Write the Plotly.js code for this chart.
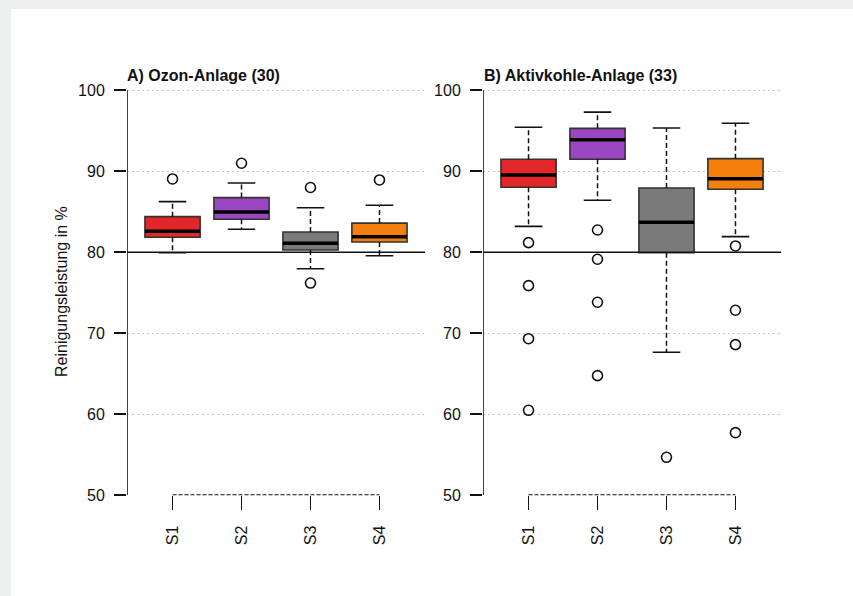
<!DOCTYPE html>
<html>
<head>
<meta charset="utf-8">
<script src="https://cdn.plot.ly/plotly-3.0.1.min.js"></script>
<style>html,body{margin:0;padding:0;background:#fff;}#chart{width:853px;height:596px;}</style>
</head>
<body>
<div id="chart"></div>
<script>
// ---- data ----
const groups = ['S1', 'S2', 'S3', 'S4'];
const colors = ['#e3262a', '#9b47c2', '#7a7a7a', '#f57f0b'];
const yTicks = [50, 60, 70, 80, 90, 100];

const titleA = 'A) Ozon-Anlage (30)';
const q1A  = [81.85, 84.07, 80.28, 81.27];
const medA = [82.6, 84.97, 81.1, 81.93];
const q3A  = [84.4, 86.75, 82.5, 83.6];
const loA  = [79.95, 82.84, 77.97, 79.58];
const hiA  = [86.25, 88.56, 85.5, 85.8];
const outA = [[89.05], [90.99], [88.0, 76.2], [88.93]];

const titleB = 'B) Aktivkohle-Anlage (33)';
const q1B  = [88.02, 91.48, 79.95, 87.78];
const medB = [89.54, 93.9, 83.7, 89.09];
const q3B  = [91.48, 95.3, 87.94, 91.56];
const loB  = [83.2, 86.42, 67.65, 81.93];
const hiB  = [95.43, 97.3, 95.35, 95.93];
const outB = [[81.19, 75.88, 69.33, 60.49], [82.75, 79.14, 73.83, 64.77], [54.69], [80.78, 72.84, 68.6, 57.73]];

const refLine = 80;
const yLabel = 'Reinigungsleistung in %';

// ---- build ----
const BOXW = 0.8, CAPW = 0.4;
const FONT = 'Liberation Sans, Arial, Helvetica, sans-serif';
const pos = groups.map((g, i) => i + 1);
const traces = [];

function panel(q1, med, q3, lo, hi, out, xa, ya) {
  // dashed whiskers
  const wx = [], wy = [];
  pos.forEach((p, i) => {
    wx.push(p, p, null, p, p, null);
    wy.push(q3[i], hi[i], null, q1[i], lo[i], null);
  });
  traces.push({type: 'scatter', mode: 'lines', x: wx, y: wy, xaxis: xa, yaxis: ya,
    line: {color: '#111', width: 1.5, dash: '5px,3px'}, hoverinfo: 'skip', showlegend: false});
  // dashed baseline from first to last group
  traces.push({type: 'scatter', mode: 'lines', x: [pos[0], pos[pos.length - 1]], y: [yTicks[0], yTicks[0]],
    xaxis: xa, yaxis: ya, line: {color: '#111', width: 1.8, dash: '4px,2px'}, hoverinfo: 'skip', showlegend: false, cliponaxis: false});
  // boxes
  pos.forEach((p, i) => {
    traces.push({type: 'box', x: [p], q1: [q1[i]], median: [med[i]], q3: [q3[i]],
      lowerfence: [q1[i]], upperfence: [q3[i]], width: BOXW, xaxis: xa, yaxis: ya,
      fillcolor: colors[i], line: {color: '#333', width: 1.6}, showlegend: false, hoverinfo: 'skip'});
  });
  // medians
  const mx = [], my = [];
  pos.forEach((p, i) => { mx.push(p - BOXW / 2, p + BOXW / 2, null); my.push(med[i], med[i], null); });
  traces.push({type: 'scatter', mode: 'lines', x: mx, y: my, xaxis: xa, yaxis: ya,
    line: {color: '#000', width: 3.5}, hoverinfo: 'skip', showlegend: false});
  // caps
  const cx = [], cy = [];
  pos.forEach((p, i) => {
    cx.push(p - CAPW / 2, p + CAPW / 2, null, p - CAPW / 2, p + CAPW / 2, null);
    cy.push(hi[i], hi[i], null, lo[i], lo[i], null);
  });
  traces.push({type: 'scatter', mode: 'lines', x: cx, y: cy, xaxis: xa, yaxis: ya,
    line: {color: '#111', width: 1.6}, hoverinfo: 'skip', showlegend: false});
  // outliers
  const ox = [], oy = [];
  out.forEach((arr, i) => arr.forEach(v => { ox.push(pos[i]); oy.push(v); }));
  traces.push({type: 'scatter', mode: 'markers', x: ox, y: oy, xaxis: xa, yaxis: ya,
    marker: {symbol: 'circle-open', size: 10, color: '#111', line: {width: 1.6, color: '#111'}},
    hoverinfo: 'skip', showlegend: false});
}
panel(q1A, medA, q3A, loA, hiA, outA, 'x', 'y');
panel(q1B, medB, q3B, loB, hiB, outB, 'x2', 'y2');

const xr = [0.34, groups.length + 0.66];
const yr = [50, 102];
const yDom = [0.169, 0.8757];

function xAxis(dom, anchor) {
  return {domain: dom, anchor: anchor, range: xr, tickvals: pos, ticktext: groups,
    showgrid: false, zeroline: false, showline: false, ticks: 'outside', ticklen: 14,
    tickwidth: 1.6, tickcolor: '#111', tickangle: -90, ticklabelstandoff: 9,
    tickfont: {family: FONT, size: 16, color: '#111'}};
}
function yAxis(anchor) {
  return {domain: yDom, anchor: anchor, range: yr, tickvals: yTicks, showgrid: true,
    gridcolor: '#c4c4c4', griddash: '2px,3px', gridwidth: 1.2, zeroline: false, showline: false,
    ticks: 'outside', ticklen: 12, tickwidth: 1.6, tickcolor: '#111', ticklabelstandoff: 6,
    tickfont: {family: FONT, size: 16, color: '#111'}};
}

const shapes = [
  {type: 'rect', xref: 'paper', yref: 'paper', x0: 0, x1: 11 / 853, y0: 0, y1: 1, fillcolor: '#eef0ef', line: {width: 0}, layer: 'below'},
  {type: 'rect', xref: 'paper', yref: 'paper', x0: 0, x1: 1, y0: (596 - 9) / 596, y1: 1, fillcolor: '#eef0ef', line: {width: 0}, layer: 'below'}
];
[['x', 'y'], ['x2', 'y2']].forEach(([xa, ya]) => {
  shapes.push({type: 'line', xref: xa, yref: ya, x0: xr[0], x1: xr[0], y0: yTicks[0], y1: yTicks[yTicks.length - 1], line: {color: '#111', width: 1.6}});
  shapes.push({type: 'line', xref: xa + ' domain', yref: ya, x0: 0, x1: 1, y0: refLine, y1: refLine, line: {color: '#111', width: 1.6}});
});

const layout = {
  width: 853, height: 596, margin: {l: 0, r: 0, t: 0, b: 0},
  paper_bgcolor: '#ffffff', plot_bgcolor: 'rgba(0,0,0,0)', showlegend: false, boxmode: 'overlay',
  xaxis: xAxis([127 / 853, 425 / 853], 'y'),
  yaxis: yAxis('x'),
  xaxis2: xAxis([483 / 853, 781 / 853], 'y2'),
  yaxis2: yAxis('x2'),
  shapes: shapes,
  annotations: [
    {text: '<b>' + titleA + '</b>', xref: 'paper', yref: 'paper', x: 125 / 853, y: (596 - 75) / 596,
      xanchor: 'left', yanchor: 'middle', showarrow: false, font: {family: FONT, size: 16, color: '#111'}},
    {text: '<b>' + titleB + '</b>', xref: 'paper', yref: 'paper', x: 482 / 853, y: (596 - 75) / 596,
      xanchor: 'left', yanchor: 'middle', showarrow: false, font: {family: FONT, size: 16, color: '#111'}},
    {text: yLabel, xref: 'paper', yref: 'paper', x: 61 / 853, y: (596 - 292) / 596, textangle: -90,
      xanchor: 'center', yanchor: 'middle', showarrow: false, font: {family: FONT, size: 16, color: '#111'}}
  ]
};

Plotly.newPlot('chart', traces, layout, {staticPlot: true, displayModeBar: false});
</script>
</body>
</html>
